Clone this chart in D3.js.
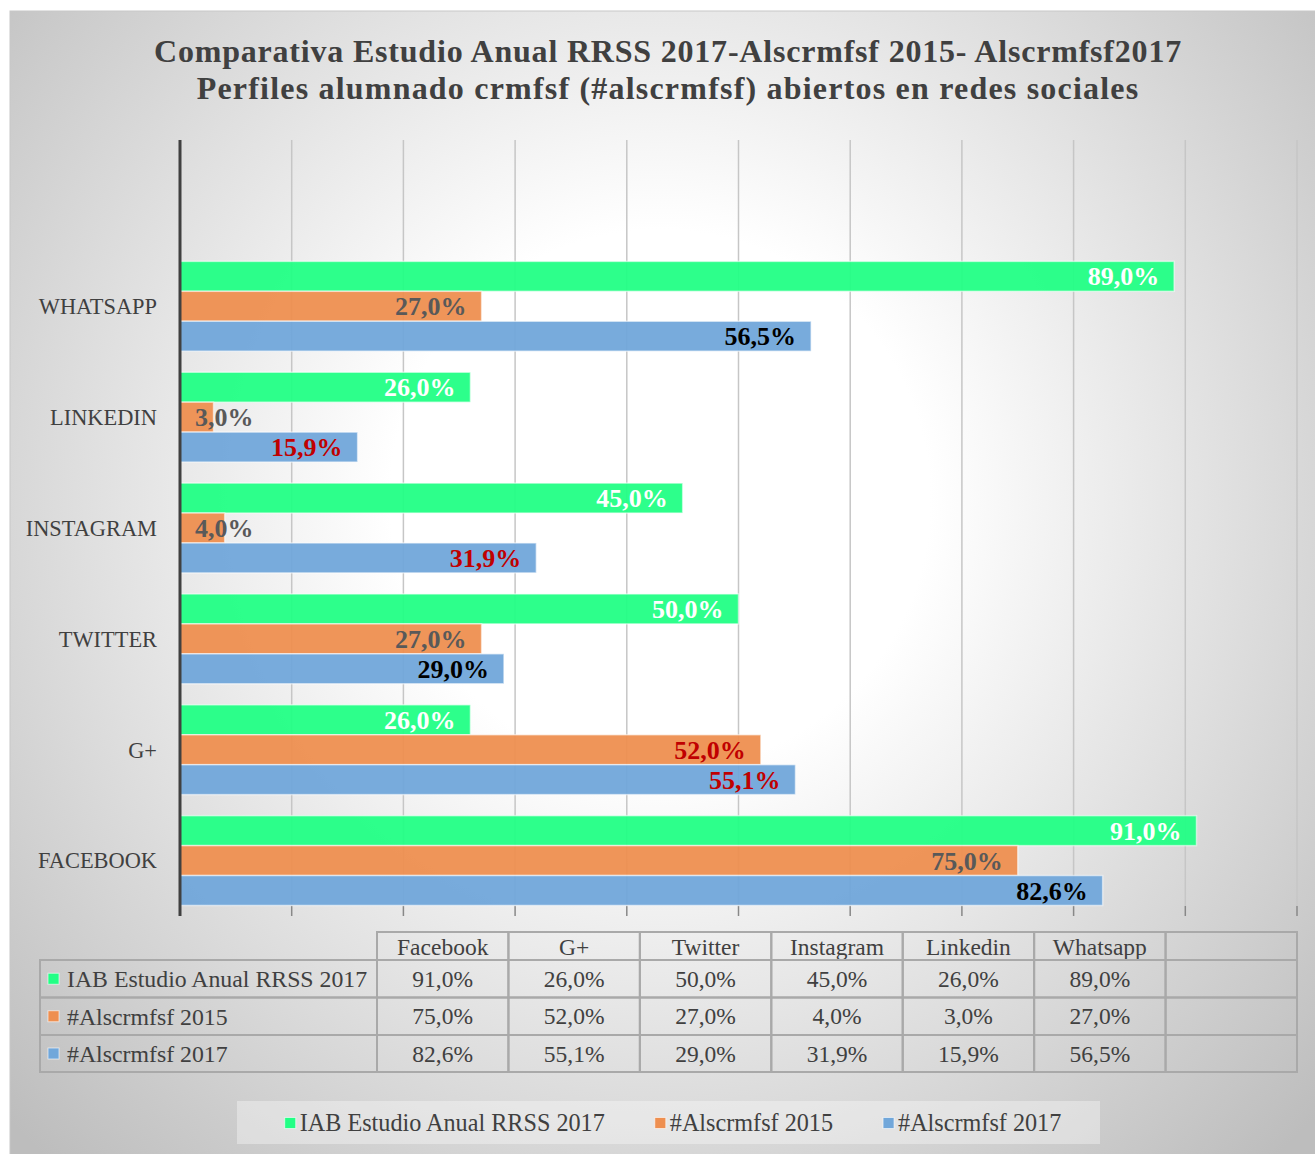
<!DOCTYPE html>
<html><head><meta charset="utf-8">
<script src="https://cdn.jsdelivr.net/npm/d3@7"></script>
<style>body{margin:0;background:#fff}svg{display:block}</style>
</head><body>
<svg id="c" width="1315" height="1154"></svg>
<script>
// ---- data ----
const categories = ["Facebook", "G+", "Twitter", "Instagram", "Linkedin", "Whatsapp", ""];
const axisLabels = ["FACEBOOK", "G+", "TWITTER", "INSTAGRAM", "LINKEDIN", "WHATSAPP", ""];
const seriesNames = ["IAB Estudio Anual RRSS 2017", "#Alscrmfsf 2015", "#Alscrmfsf 2017"];
const iab2017 = [0.91, 0.26, 0.50, 0.45, 0.26, 0.89, null];
const als2015 = [0.75, 0.52, 0.27, 0.04, 0.03, 0.27, null];
const als2017 = [0.826, 0.551, 0.29, 0.319, 0.159, 0.565, null];
const xTicks = [0, 0.1, 0.2, 0.3, 0.4, 0.5, 0.6, 0.7, 0.8, 0.9, 1.0];
const titleLines = ["Comparativa Estudio Anual RRSS 2017-Alscrmfsf 2015- Alscrmfsf2017",
                    "Perfiles alumnado crmfsf (#alscrmfsf) abiertos en redes sociales"];

// ---- styles ----
const seriesColors = ["#22FF85", "#EE8F50", "#71A7DA"];
const labelDefault = ["#FFFFFF", "#595959", "#000000"];
const labelRed = "#C00000";
const redLabels = {"1|G+": true, "2|Linkedin": true, "2|Instagram": true, "2|G+": true};
const FONT = "'Liberation Serif', 'DejaVu Serif', serif";
const seriesValues = [iab2017, als2015, als2017];

const svg = d3.select("#c");
const defs = svg.append("defs");
const rg = defs.append("radialGradient").attr("id", "bg")
  .attr("gradientUnits", "userSpaceOnUse").attr("cx", 660).attr("cy", 500).attr("r", 900);
rg.append("stop").attr("offset", 0).attr("stop-color", "#ffffff");
rg.append("stop").attr("offset", 0.3).attr("stop-color", "#ffffff");
rg.append("stop").attr("offset", 1).attr("stop-color", "#bdbdbd");

svg.append("rect").attr("x", 10).attr("y", 11).attr("width", 1310).attr("height", 1150)
  .attr("fill", "url(#bg)").attr("stroke", "#c8c8c8").attr("stroke-width", 1);

// title
svg.append("g").selectAll("text").data(titleLines).join("text")
  .attr("x", 668).attr("y", (d, i) => 62 + i * 37)
  .attr("text-anchor", "middle").attr("font-family", FONT).attr("font-weight", "bold")
  .attr("font-size", 32).attr("letter-spacing", (d, i) => i === 0 ? 0.8 : 1.2)
  .attr("fill", "#404040").text(d => d);

// scales
const x = d3.scaleLinear().domain([0, 1]).range([180, 1297]);
const yOrder = categories.slice().reverse(); // top to bottom
const y0 = d3.scaleBand().domain(yOrder).range([140, 916]).paddingInner(0.19).paddingOuter(0.095);
const y1 = d3.scaleBand().domain([0, 1, 2]).range([0, y0.bandwidth()]);

// gridlines
const grid = svg.append("g");
grid.selectAll("line.g").data(xTicks.filter(t => t > 0)).join("line")
  .attr("x1", d => x(d)).attr("x2", d => x(d)).attr("y1", 140).attr("y2", 906)
  .attr("stroke", "#c6c6c6").attr("stroke-width", 1.5);
grid.selectAll("line.t").data(xTicks).join("line")
  .attr("x1", d => x(d)).attr("x2", d => x(d)).attr("y1", 906).attr("y2", 916)
  .attr("stroke", "#888").attr("stroke-width", 1.5);

// bars
const bars = svg.append("g");
seriesValues.forEach((vals, si) => {
  const data = categories.map((c, i) => ({c, v: vals[i]})).filter(d => d.v != null);
  bars.selectAll("rect.s" + si).data(data).join("rect")
    .attr("x", x(0)).attr("y", d => y0(d.c) + y1(si))
    .attr("width", d => x(d.v) - x(0)).attr("height", y1.bandwidth())
    .attr("fill", seriesColors[si]).attr("fill-opacity", 0.95)
    .attr("stroke", "rgba(255,255,255,0.55)").attr("stroke-width", 1.5);
});

// axis line
svg.append("line").attr("x1", 180).attr("x2", 180).attr("y1", 140).attr("y2", 916)
  .attr("stroke", "#404040").attr("stroke-width", 3);

// category labels
svg.append("g").selectAll("text").data(categories.map((c, i) => ({c, l: axisLabels[i]})))
  .join("text").attr("x", 157).attr("y", d => y0(d.c) + y0.bandwidth() / 2)
  .attr("dy", "0.35em").attr("text-anchor", "end").attr("font-family", FONT)
  .attr("font-size", 22.4).attr("fill", "#404040").text(d => d.l);

// data labels
const fmt = v => d3.format(".1f")(v * 100).replace(".", ",") + "%";
const lab = svg.append("g");
seriesValues.forEach((vals, si) => {
  categories.forEach((c, i) => {
    const v = vals[i];
    if (v == null) return;
    const t = lab.append("text").attr("font-family", FONT).attr("font-weight", "bold")
      .attr("font-size", 26).attr("text-anchor", "end")
      .attr("fill", redLabels[si + "|" + c] ? labelRed : labelDefault[si])
      .attr("y", y0(c) + y1(si) + y1.bandwidth() / 2).attr("dy", "0.35em").text(fmt(v));
    const w = t.node().getComputedTextLength();
    t.attr("x", Math.max(x(v) - 15, x(0) + 15 + w));
  });
});

// data table
const tx = d3.scaleBand().domain(categories).range([377, 1297]);
const rowsY = [960, 997.5, 1035, 1072];
const tbl = svg.append("g").attr("font-family", FONT).attr("fill", "#404040");
const bc = "#a9a9a9";
// header
tbl.selectAll("rect.h").data(categories).join("rect")
  .attr("x", d => tx(d)).attr("y", 932).attr("width", tx.bandwidth()).attr("height", 28)
  .attr("fill", "none").attr("stroke", bc).attr("stroke-width", 2);
tbl.selectAll("text.h").data(categories).join("text")
  .attr("x", d => tx(d) + tx.bandwidth() / 2).attr("y", 955).attr("text-anchor", "middle")
  .attr("font-size", 23.5).attr("fill", "#404040").text(d => d);
seriesValues.forEach((vals, si) => {
  const yT = rowsY[si], h = rowsY[si + 1] - rowsY[si];
  tbl.append("rect").attr("x", 40).attr("y", yT).attr("width", 337).attr("height", h)
    .attr("fill", "none").attr("stroke", bc).attr("stroke-width", 2);
  tbl.append("rect").attr("x", 48).attr("y", yT + h / 2 - 5.5).attr("width", 11).attr("height", 11)
    .attr("fill", seriesColors[si]).attr("stroke", "rgba(255,255,255,0.6)");
  tbl.append("text").attr("x", 67).attr("y", yT + h / 2).attr("dy", "0.35em")
    .attr("font-size", 23.8).attr("fill", "#404040").text(seriesNames[si]);
  categories.forEach((c, i) => {
    tbl.append("rect").attr("x", tx(c)).attr("y", yT).attr("width", tx.bandwidth()).attr("height", h)
      .attr("fill", "none").attr("stroke", bc).attr("stroke-width", 2);
    if (vals[i] != null)
      tbl.append("text").attr("x", tx(c) + tx.bandwidth() / 2).attr("y", yT + h / 2).attr("dy", "0.35em")
        .attr("text-anchor", "middle").attr("font-size", 23.5).attr("fill", "#404040").text(fmt(vals[i]));
  });
});

// legend
svg.append("rect").attr("x", 237).attr("y", 1101).attr("width", 863).attr("height", 43)
  .attr("fill", "#ffffff").attr("fill-opacity", 0.35);
const lg = svg.append("g");
let widths = [];
const items = seriesNames.map((n, i) => {
  const t = lg.append("text").attr("font-family", FONT).attr("font-size", 24.2)
    .attr("fill", "#404040").attr("y", 1123).attr("dy", "0.35em").text(n);
  widths.push(t.node().getComputedTextLength());
  return t;
});
const total = widths.reduce((a, b) => a + b, 0) + 3 * 15 + 2 * 50;
let cx = 673 - total / 2;
items.forEach((t, i) => {
  lg.append("rect").attr("x", cx).attr("y", 1117.5).attr("width", 11).attr("height", 11)
    .attr("fill", seriesColors[i]).attr("stroke", "rgba(255,255,255,0.6)");
  t.attr("x", cx + 15);
  cx += 15 + widths[i] + 50;
});
</script>
</body></html>
